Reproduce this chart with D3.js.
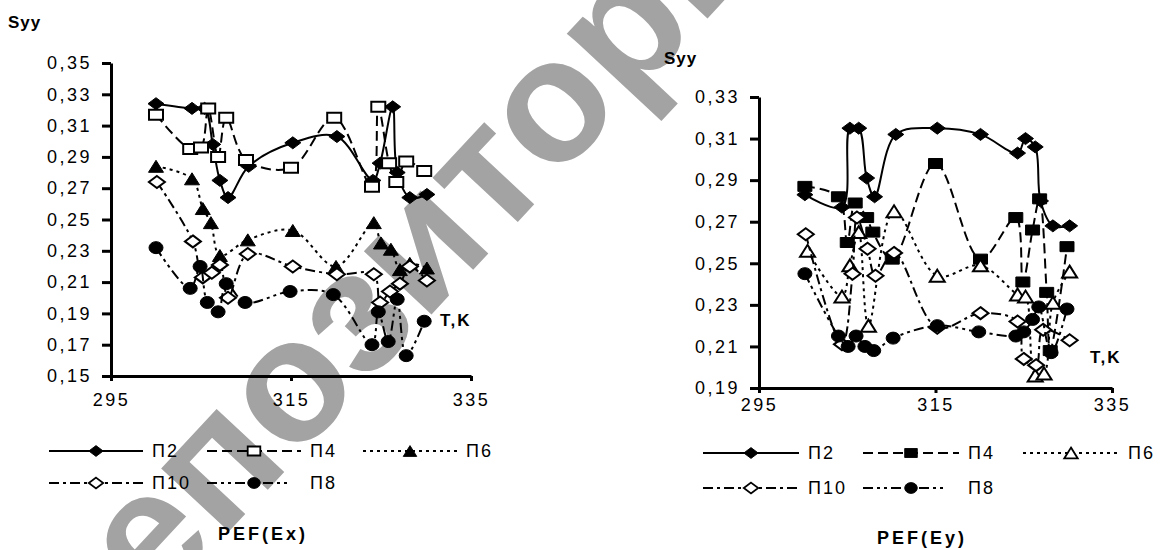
<!DOCTYPE html>
<html>
<head>
<meta charset="utf-8">
<script src="https://cdn.jsdelivr.net/npm/d3@7"></script>
<style>
  body { margin: 0; background: #fff; }
  svg text { font-family: "Liberation Sans", Arial, sans-serif; fill: #000; }
</style>
</head>
<body>
<div id="chart"></div>
<script>
// ---- data ----
const xTicks = [295, 315, 335];
const yTicksEx = [0.15, 0.17, 0.19, 0.21, 0.23, 0.25, 0.27, 0.29, 0.31, 0.33, 0.35];
const yTicksEy = [0.19, 0.21, 0.23, 0.25, 0.27, 0.29, 0.31, 0.33];
const seriesNames = ["П2", "П4", "П6", "П10", "П8"];

// PEF(Ex)
const exTempP2 = [300, 304, 305.4, 306.3, 307.1, 308, 310.3, 315.2, 320.1, 324.1, 324.9, 326.3, 326.8, 328.2, 330.1];
const exP2 = [0.324, 0.321, 0.321, 0.298, 0.275, 0.264, 0.284, 0.299, 0.303, 0.275, 0.286, 0.322, 0.280, 0.264, 0.266];
const exTempP4 = [300, 303.8, 305, 305.8, 306.9, 307.8, 310, 315, 319.8, 324, 324.7, 325.9, 326.7, 327.8, 329.8];
const exP4 = [0.317, 0.295, 0.296, 0.321, 0.290, 0.315, 0.288, 0.283, 0.315, 0.271, 0.322, 0.286, 0.274, 0.287, 0.281];
const exTempP6 = [300, 304, 305.2, 306.1, 307.1, 310.2, 315.2, 320, 324.2, 325, 326.1, 327.1, 328.2, 330.1];
const exP6 = [0.284, 0.276, 0.257, 0.248, 0.227, 0.237, 0.243, 0.220, 0.248, 0.235, 0.231, 0.218, 0.222, 0.219];
const exTempP10 = [300.1, 304.1, 305.2, 306.2, 307.1, 308, 310.2, 315.2, 320.1, 324.2, 324.9, 326, 327.1, 328.2, 330.1];
const exP10 = [0.274, 0.236, 0.213, 0.216, 0.221, 0.200, 0.228, 0.220, 0.215, 0.215, 0.197, 0.204, 0.209, 0.220, 0.211];
const exTempP8 = [300, 303.8, 304.9, 305.7, 306.9, 307.8, 309.9, 314.9, 319.7, 324, 324.7, 325.8, 326.8, 327.8, 329.8];
const exP8 = [0.232, 0.206, 0.220, 0.197, 0.191, 0.209, 0.197, 0.204, 0.202, 0.170, 0.191, 0.172, 0.199, 0.163, 0.185];

// PEF(Ey)
const eyTempP2 = [300.2, 304.4, 305.3, 306.3, 307.2, 308.1, 310.5, 315.2, 320.1, 324.3, 325.2, 326.3, 326.9, 328.3, 330.2];
const eyP2 = [0.283, 0.277, 0.315, 0.315, 0.291, 0.282, 0.312, 0.315, 0.312, 0.303, 0.310, 0.306, 0.280, 0.268, 0.268];
const eyTempP4 = [300.2, 304, 305, 305.9, 307.2, 307.9, 310.1, 315, 320.1, 324.1, 324.9, 326, 326.8, 327.6, 328, 329.9];
const eyP4 = [0.287, 0.282, 0.260, 0.279, 0.272, 0.265, 0.252, 0.298, 0.252, 0.272, 0.241, 0.266, 0.281, 0.236, 0.208, 0.258];
const eyTempP6 = [300.5, 304.4, 305.3, 306.3, 307.4, 310.3, 315.2, 320.1, 324.3, 325.2, 326.3, 327.3, 328.3, 330.2];
const eyP6 = [0.256, 0.234, 0.249, 0.265, 0.220, 0.275, 0.244, 0.249, 0.235, 0.234, 0.196, 0.197, 0.231, 0.246];
const eyTempP10 = [300.3, 304.4, 305.6, 306.1, 307.3, 308.2, 310.3, 315.2, 320.1, 324.3, 325, 326.4, 327.2, 330.2];
const eyP10 = [0.264, 0.211, 0.245, 0.272, 0.257, 0.244, 0.255, 0.219, 0.226, 0.222, 0.204, 0.201, 0.218, 0.213];
const eyTempP8 = [300.2, 304, 305.1, 306, 307, 308, 310.2, 315.2, 319.9, 324.1, 325, 326, 326.7, 328.1, 329.9];
const eyP8 = [0.245, 0.215, 0.210, 0.215, 0.210, 0.208, 0.214, 0.220, 0.217, 0.215, 0.217, 0.223, 0.229, 0.207, 0.228];

// ---- drawing ----
const W = 1176, H = 550;
const svg = d3.select("#chart").append("svg")
    .attr("width", W)
    .attr("height", H);

// watermark behind everything (pivot roughly on the "з")
svg.append("text")
    .attr("transform", "translate(362, 320) rotate(-47) translate(-462, 47)")
    .attr("font-size", 175)
    .attr("font-weight", "bold")
    .style("fill", "#a3a3a3")
    .text("репозиторий");

// marker shapes, a bit wider than tall like in the picture
function markerPath(kind) {
    if (kind === "diamond") return "M0,-6 L8,0 L0,6 L-8,0Z";
    if (kind === "square") return "M-7,-5 H7 V5 H-7Z";
    if (kind === "triangle") return "M0,-6 L7.5,6 L-7.5,6Z";
    // circle (slightly oval)
    return "M-7,0 a7,6 0 1,0 14,0 a7,6 0 1,0 -14,0";
}

const dashes = {
    "П2": null,
    "П4": "10,5",
    "П6": "3,4",
    "П10": "10,4,3,4",
    "П8": "10,4,3,4,3,4"
};

function drawPanel(p) {
    let x = d3.scaleLinear().domain([295, 335]).range([p.left, p.right]);
    let y = d3.scaleLinear().domain(p.yDomain).range([p.bottom, p.top]);

    let g = svg.append("g");

    // y axis
    let yAxis = d3.axisLeft(y)
        .tickValues(p.yTicks)
        .tickFormat(d => d3.format(".2f")(d).replace(".", ","))
        .tickSize(9)
        .tickSizeOuter(0)
        .tickPadding(10);
    let ya = g.append("g")
        .attr("transform", "translate(" + p.left + ",0)")
        .call(yAxis);

    // x axis
    let xAxis = d3.axisBottom(x)
        .tickValues(xTicks)
        .tickSize(5)
        .tickSizeOuter(0)
        .tickPadding(p.xPad);
    let xa = g.append("g")
        .attr("transform", "translate(0," + p.bottom + ")")
        .call(xAxis);

    [ya, xa].forEach(a => {
        a.select(".domain").attr("stroke", "#000").attr("stroke-width", 3);
        a.selectAll(".tick line").attr("stroke", "#000").attr("stroke-width", 3);
        a.selectAll(".tick text")
            .attr("font-size", 18)
            .attr("letter-spacing", 2.5)
            .style("font-family", "Liberation Sans, Arial, sans-serif");
    });

    // series
    let line = d3.line()
        .x(d => x(d.t))
        .y(d => y(d.v))
        .curve(d3.curveCatmullRom.alpha(0.5));

    p.series.forEach(s => {
        let pts = s.temps.map((t, i) => ({t: t, v: s.values[i]}));
        g.append("path")
            .datum(pts)
            .attr("d", line)
            .attr("fill", "none")
            .attr("stroke", "#000")
            .attr("stroke-width", 2)
            .attr("stroke-dasharray", dashes[s.name]);
        g.selectAll(null)
            .data(pts)
            .enter()
            .append("path")
            .attr("d", markerPath(s.marker))
            .attr("transform", d => "translate(" + x(d.t) + "," + y(d.v) + ")")
            .attr("fill", s.filled ? "#000" : "#fff")
            .attr("stroke", "#000")
            .attr("stroke-width", s.filled ? 1 : 2);
    });

    // axis titles
    g.append("text")
        .attr("x", p.syyX).attr("y", p.syyY)
        .attr("font-size", 17).attr("font-weight", "bold")
        .attr("letter-spacing", 1)
        .text("Syy");
    g.append("text")
        .attr("x", p.tkX).attr("y", p.tkY)
        .attr("font-size", 17).attr("font-weight", "bold")
        .attr("letter-spacing", 2)
        .text("T,K");

    // legend
    let leg = g.append("g");
    p.series.forEach((s, i) => {
        let lx = p.legX[i % 3], ly = p.legY[Math.floor(i / 3)];
        let len = (i === 4) ? p.legLen - 12 : p.legLen;
        leg.append("line")
            .attr("x1", lx).attr("x2", lx + len)
            .attr("y1", ly).attr("y2", ly)
            .attr("stroke", "#000")
            .attr("stroke-width", 2)
            .attr("stroke-dasharray", dashes[s.name]);
        leg.append("path")
            .attr("d", markerPath(s.marker))
            .attr("transform", "translate(" + (lx + p.legLen / 2) + "," + ly + ") scale(0.9)")
            .attr("fill", s.filled ? "#000" : "#fff")
            .attr("stroke", "#000")
            .attr("stroke-width", s.filled ? 1 : 2);
        leg.append("text")
            .attr("x", lx + p.legLen + 9).attr("y", ly + 6)
            .attr("font-size", 18)
            .attr("letter-spacing", 2)
            .text(s.name);
    });

    g.append("text")
        .attr("x", p.titleX).attr("y", p.titleY)
        .attr("text-anchor", "middle")
        .attr("font-size", 18).attr("font-weight", "bold")
        .attr("letter-spacing", 3)
        .text(p.title);
}

drawPanel({
    left: 111, right: 471, top: 63, bottom: 376,
    yDomain: [0.15, 0.35], yTicks: yTicksEx, xPad: 12,
    syyX: 8, syyY: 28, tkX: 440, tkY: 326,
    legX: [49, 207, 363], legY: [451, 483], legLen: 94,
    titleX: 263, titleY: 540, title: "PEF(Ex)",
    series: [
        {name: seriesNames[0], temps: exTempP2, values: exP2, marker: "diamond", filled: true},
        {name: seriesNames[1], temps: exTempP4, values: exP4, marker: "square", filled: false},
        {name: seriesNames[2], temps: exTempP6, values: exP6, marker: "triangle", filled: true},
        {name: seriesNames[3], temps: exTempP10, values: exP10, marker: "diamond", filled: false},
        {name: seriesNames[4], temps: exTempP8, values: exP8, marker: "circle", filled: true}
    ]
});

drawPanel({
    left: 759, right: 1112, top: 97, bottom: 388,
    yDomain: [0.19, 0.33], yTicks: yTicksEy, xPad: 5,
    syyX: 664, syyY: 64, tkX: 1090, tkY: 363,
    legX: [703, 863, 1023], legY: [453, 488], legLen: 96,
    titleX: 922, titleY: 544, title: "PEF(Ey)",
    series: [
        {name: seriesNames[0], temps: eyTempP2, values: eyP2, marker: "diamond", filled: true},
        {name: seriesNames[1], temps: eyTempP4, values: eyP4, marker: "square", filled: true},
        {name: seriesNames[2], temps: eyTempP6, values: eyP6, marker: "triangle", filled: false},
        {name: seriesNames[3], temps: eyTempP10, values: eyP10, marker: "diamond", filled: false},
        {name: seriesNames[4], temps: eyTempP8, values: eyP8, marker: "circle", filled: true}
    ]
});
</script>
</body>
</html>
